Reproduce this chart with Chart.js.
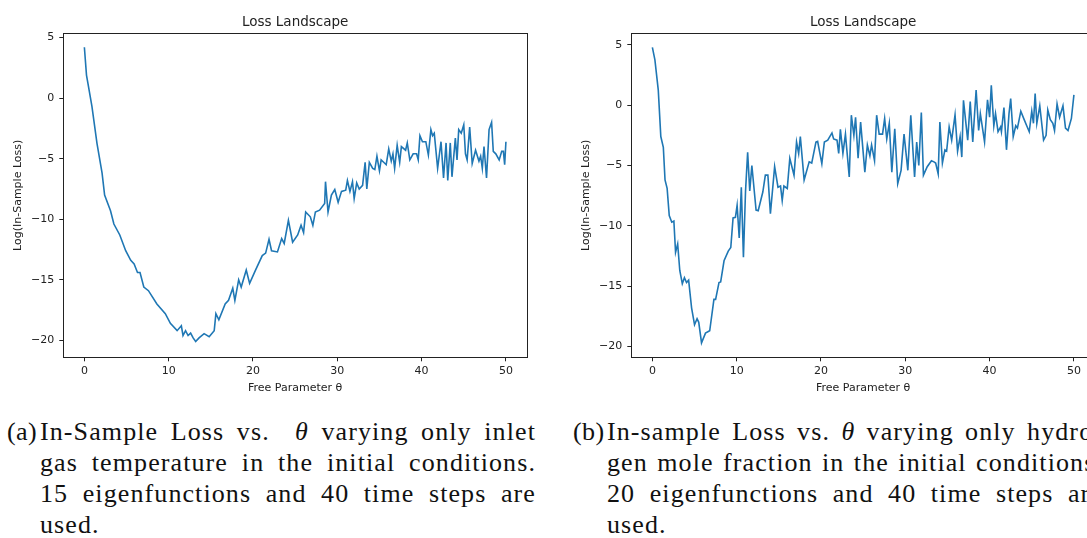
<!DOCTYPE html>
<html>
<head>
<meta charset="utf-8">
<script src="https://cdn.jsdelivr.net/npm/chart.js@4.4.1/dist/chart.umd.min.js"></script>
<style>
  html, body { margin: 0; padding: 0; background: #fff; }
  body { width: 1087px; height: 538px; overflow: hidden; position: relative; }
  canvas { position: absolute; top: 0; }
  .cap { position: absolute; top: 416px; font-family: "Liberation Serif", serif; font-size: 26px; line-height: 31px; color: #111; letter-spacing: 1.1px; }
  .cap .lab { position: absolute; left: 0; top: 0; white-space: nowrap; letter-spacing: 0.4px; }
  .cap .txt { position: absolute; top: 0; width: 496px; }
  .cap .j { text-align: justify; text-align-last: justify; white-space: nowrap; }
</style>
</head>
<body>
<canvas id="chartA" width="540" height="400" style="left:0px"></canvas>
<canvas id="chartB" width="540" height="400" style="left:568px"></canvas>

<div class="cap" style="left:7px">
  <div class="lab">(a)</div>
  <div class="txt" style="left:33px">
    <div class="j">In-Sample Loss vs. &nbsp;<i>θ</i> varying only inlet</div>
    <div class="j">gas temperature in the initial conditions.</div>
    <div class="j">15 eigenfunctions and 40 time steps are</div>
    <div>used.</div>
  </div>
</div>
<div class="cap" style="left:573px">
  <div class="lab">(b)</div>
  <div class="txt" style="left:34px">
    <div class="j">In-sample Loss vs. <i>θ</i> varying only hydro-</div>
    <div class="j">gen mole fraction in the initial conditions.</div>
    <div class="j">20 eigenfunctions and 40 time steps are</div>
    <div>used.</div>
  </div>
</div>

<script>
// (a) inlet gas temperature
const thetaA = [0, 0.25, 0.5, 0.9, 1.5, 2.1, 2.4, 3.1, 3.5, 4.2, 4.9, 5.5, 5.9, 6.3, 6.6, 7.05, 7.6, 8.6, 9.6, 10.2,
  11.0, 11.5, 11.7, 12.0, 12.3, 12.6, 12.9, 13.2, 13.6, 14.2, 14.8, 15.4, 15.6, 15.95, 16.7, 17.1, 17.6, 17.85, 18.3, 18.6,
  19.2, 19.6, 20.3, 21.1, 21.5, 21.9, 22.2, 22.9, 23.4, 23.7, 24.2, 24.7, 25.3, 25.7, 26.0, 26.25, 26.8, 27.1, 27.4, 27.9,
  28.5, 28.6, 28.9, 29.3, 29.7, 30.1, 30.5, 31.0, 31.2, 31.5, 31.8, 32.0, 32.3, 32.6, 33.0, 33.3, 33.5, 33.8, 34.2, 34.45,
  34.7, 35.0, 35.2, 35.5, 35.8, 36.1, 36.4, 36.6, 36.8, 37.1, 37.4, 37.6, 38.1, 38.3, 38.6, 39.0, 39.4, 39.6, 39.8, 40.1,
  40.5, 40.8, 41.1, 41.3, 41.5, 41.9, 42.3, 42.6, 42.9, 43.1, 43.4, 43.6, 44.0, 44.2, 44.4, 44.7, 45.0, 45.2, 45.4, 45.7,
  46.0, 46.4, 46.8, 47.0, 47.2, 47.4, 47.7, 48.0, 48.3, 48.5, 48.8, 49.2, 49.5, 49.7, 49.85, 50.0];
const lossA = [4.2, 1.9, 0.9, -0.7, -3.75, -6.2, -8.0, -9.3, -10.4, -11.3, -12.6, -13.4, -13.7, -14.4, -14.4, -15.6, -15.9, -17.0, -17.8, -18.6,
  -19.2, -18.8, -19.6, -19.2, -19.6, -19.4, -19.8, -20.1, -19.8, -19.45, -19.7, -19.2, -17.8, -18.3, -17.0, -16.7, -15.7, -16.7, -15.0, -15.6,
  -14.2, -15.3, -14.2, -13.0, -12.8, -11.65, -12.6, -12.7, -11.6, -12.0, -10.1, -11.9, -11.3, -10.5, -11.1, -9.4, -9.8, -10.5, -9.4, -9.25,
  -8.7, -6.9, -9.4, -8.0, -7.55, -8.6, -7.7, -7.6, -6.8, -7.7, -6.9, -8.3, -7.0, -7.5, -7.2, -5.3, -7.5, -5.3, -5.8, -5.9,
  -4.8, -6.0, -5.1, -5.3, -5.5, -4.2, -5.2, -4.6, -5.8, -3.9, -5.3, -4.0, -4.3, -3.7, -5.1, -4.6, -4.6, -5.1, -3.1, -3.6,
  -3.6, -4.7, -2.6, -3.1, -2.9, -5.8, -3.6, -6.6, -3.7, -6.8, -3.7, -6.5, -3.3, -5.1, -2.6, -2.9, -2.2, -4.6, -5.1, -2.4,
  -5.4, -4.3, -5.2, -4.8, -5.8, -4.0, -6.6, -2.6, -2.0, -4.4, -4.6, -5.1, -4.4, -4.4, -5.5, -3.6];

// (b) hydrogen mole fraction
const thetaB = [0, 0.3, 0.7, 1.0, 1.3, 1.5, 1.75, 2.0, 2.3, 2.55, 2.75, 3.0, 3.25, 3.55, 3.8, 4.05, 4.3, 4.65, 5.0, 5.3,
  5.5, 5.83, 6.3, 6.8, 7.3, 7.5, 7.9, 8.1, 8.5, 9.0, 9.3, 9.57, 9.85, 10.05, 10.3, 10.55, 10.8, 11.05, 11.3, 11.55,
  11.8, 12.3, 12.55, 13.1, 13.4, 13.7, 14.0, 14.5, 14.9, 15.2, 15.4, 15.6, 16.0, 16.3, 16.8, 17.1, 17.35, 17.55, 18.0, 18.6,
  18.9, 19.4, 19.6, 20.1, 20.4, 20.8, 21.3, 21.5, 21.9, 22.1, 22.3, 22.6, 22.9, 23.35, 23.6, 23.9, 24.1, 24.4, 24.7, 25.2,
  25.5, 25.8, 26.0, 26.35, 26.6, 26.9, 27.3, 27.55, 27.8, 28.1, 28.4, 28.75, 29.1, 29.5, 29.85, 30.3, 30.65, 31.1, 31.35, 31.6,
  31.9, 32.15, 32.6, 33.1, 33.4, 33.6, 33.9, 34.1, 34.4, 34.7, 34.9, 35.2, 35.5, 35.9, 36.2, 36.5, 36.7, 36.9, 37.4, 37.7,
  38.0, 38.4, 38.7, 38.9, 39.4, 39.75, 40.0, 40.2, 40.5, 40.7, 41.0, 41.3, 41.4, 41.7, 42.0, 42.3, 42.5, 42.8, 43.1, 43.3,
  43.7, 44.1, 44.4, 44.7, 45.0, 45.2, 45.4, 45.6, 45.95, 46.4, 46.7, 46.9, 47.2, 47.5, 47.7, 48.0, 48.3, 48.7, 49.0, 49.3,
  49.7, 50.0];
const lossB = [4.8, 3.75, 1.25, -2.6, -3.5, -6.2, -6.9, -9.15, -9.7, -9.6, -12.2, -11.5, -13.7, -14.8, -14.3, -14.7, -14.5, -16.8, -18.2, -17.7,
  -18.0, -19.7, -18.9, -18.7, -16.1, -16.1, -14.7, -14.65, -12.9, -12.1, -11.8, -9.35, -9.3, -8.3, -11.0, -6.8, -12.6, -7.1, -3.9, -7.1,
  -5.0, -8.7, -8.75, -7.2, -5.8, -5.8, -9.0, -5.1, -6.8, -6.7, -7.9, -6.7, -6.9, -4.4, -5.8, -3.05, -4.0, -2.6, -6.2, -4.7,
  -4.8, -3.05, -3.0, -4.85, -3.05, -2.9, -2.3, -2.8, -2.9, -4.0, -2.0, -4.0, -2.4, -5.95, -0.83, -2.5, -1.0, -4.4, -1.4, -5.55,
  -3.3, -4.2, -3.3, -4.6, -0.83, -2.4, -2.4, -1.1, -2.8, -1.5, -5.55, -1.95, -6.5, -5.4, -2.4, -5.4, -0.83, -5.95, -3.05, -5.0,
  -0.6, -5.8, -5.1, -4.6, -4.7, -4.8, -5.7, -1.4, -4.8, -3.7, -3.8, -1.8, -2.9, -0.8, -3.8, -2.6, -4.3, 0.4, -2.9, 0.3,
  -3.05, 1.25, -2.1, -0.7, -3.05, 0.45, -1.0, 1.65, -1.7, -0.7, -2.2, -1.8, -2.2, -0.2, -3.7, -0.7, 0.55, -2.6, -1.7, -1.9,
  -0.5, -1.2, -1.7, -2.2, -0.5, -1.5, 0.97, -1.5, -0.05, -2.9, -2.5, -0.4, -1.2, -1.5, -2.1, 0.1, -1.0, -0.05, -1.9, -2.1,
  -1.1, 0.85];

const xTicks = [0, 10, 20, 30, 40, 50];
const yTicks = [-20, -15, -10, -5, 0, 5];

Chart.defaults.font.family = 'DejaVu Sans';
Chart.defaults.color = '#222';

const frame = {
  id: 'frame',
  afterDraw(chart) {
    const { ctx, chartArea: a } = chart;
    ctx.save();
    ctx.strokeStyle = '#222';
    ctx.lineWidth = 1;
    ctx.strokeRect(Math.round(a.left) + 0.5, Math.round(a.top) + 0.5,
      Math.round(a.right - a.left), Math.round(a.bottom - a.top));
    ctx.restore();
  }
};

const minus = v => String(v).replace('-', '\u2212');

function makeChart(id, xs, ys, yMin, yMax) {
  const pts = xs.map((x, i) => ({ x: x, y: ys[i] }));
  return new Chart(document.getElementById(id), {
    type: 'line',
    data: {
      datasets: [{
        data: pts,
        borderColor: '#1f77b4',
        borderWidth: 1.6,
        pointRadius: 0,
        tension: 0,
        fill: false
      }]
    },
    options: {
      responsive: false,
      animation: false,
      layout: { padding: { left: 0, right: 13, top: 0, bottom: 0 } },
      scales: {
        x: {
          type: 'linear',
          min: -2.5,
          max: 52.5,
          afterBuildTicks: s => { s.ticks = xTicks.map(v => ({ value: v })); },
          afterFit: s => { s.height = 42.7; },
          grid: { display: true, drawOnChartArea: false, drawTicks: true, tickLength: 4, color: '#222' },
          border: { display: true, color: '#222' },
          ticks: { font: { size: 11 }, padding: 3, maxRotation: 0, callback: minus },
          title: { display: true, text: 'Free Parameter θ', font: { size: 11 }, padding: { top: 0, bottom: 5.4 } }
        },
        y: {
          min: yMin,
          max: yMax,
          afterBuildTicks: s => { s.ticks = yTicks.map(v => ({ value: v })); },
          afterFit: s => { s.width = 63.3; },
          grid: { display: true, drawOnChartArea: false, drawTicks: true, tickLength: 4, color: '#222' },
          border: { display: true, color: '#222' },
          ticks: { font: { size: 11 }, padding: 5, callback: minus },
          title: { display: true, text: 'Log(In-Sample Loss)', font: { size: 11 }, padding: { top: 11.7, bottom: 0 } }
        }
      },
      plugins: {
        legend: { display: false },
        tooltip: { enabled: false },
        title: {
          display: true,
          text: 'Loss Landscape',
          fullSize: false,
          font: { size: 13.5, weight: 'normal' },
          color: '#222',
          padding: { top: 14.7, bottom: 2.4 }
        }
      }
    },
    plugins: [frame]
  });
}

makeChart('chartA', thetaA, lossA, -21.4, 5.35);
makeChart('chartB', thetaB, lossB, -20.9, 5.96);
</script>
</body>
</html>
